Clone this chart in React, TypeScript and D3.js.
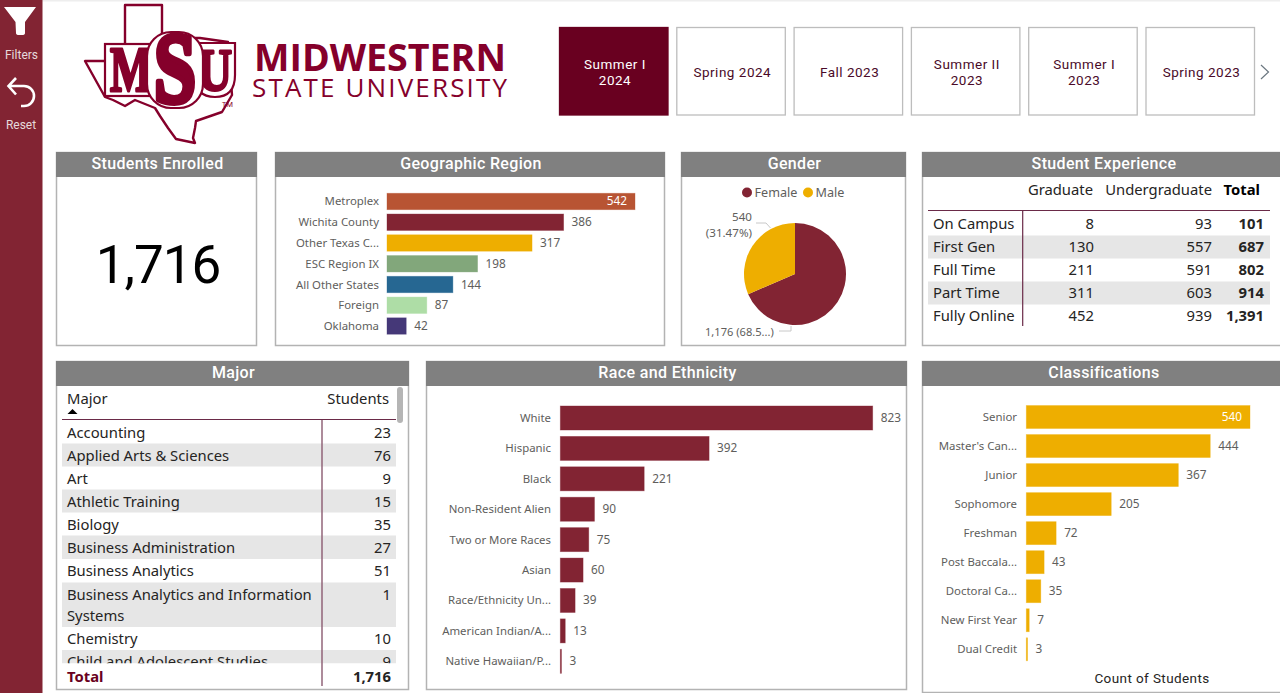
import React from "react";
import * as d3 from "d3";

const regionNames = ["Metroplex", "Wichita County", "Other Texas C...", "ESC Region IX", "All Other States", "Foreign", "Oklahoma"];
const regionValues = [542, 386, 317, 198, 144, 87, 42];
const regionColors = ["#B85433", "#822433", "#EEAE00", "#82A77B", "#266792", "#AEDDA6", "#453878"];

const raceNames = ["White", "Hispanic", "Black", "Non-Resident Alien", "Two or More Races", "Asian", "Race/Ethnicity Un...", "American Indian/A...", "Native Hawaiian/P..."];
const raceValues = [823, 392, 221, 90, 75, 60, 39, 13, 3];

const classNames = ["Senior", "Master's Can...", "Junior", "Sophomore", "Freshman", "Post Baccala...", "Doctoral Ca...", "New First Year", "Dual Credit"];
const classValues = [540, 444, 367, 205, 72, 43, 35, 7, 3];

const genderNames = ["Female", "Male"];
const genderValues = [1176, 540];
const genderColors = ["#822433", "#EEAE00"];

const tileLabels = [["Summer I", "2024"], ["Spring 2024"], ["Fall 2023"], ["Summer II", "2023"], ["Summer I", "2023"], ["Spring 2023"]];

const expRows = ["On Campus", "First Gen", "Full Time", "Part Time", "Fully Online"];
const expGraduate = [8, 130, 211, 311, 452];
const expUndergraduate = [93, 557, 591, 603, 939];
const expTotal = [101, 687, 802, 914, 1391];

const majorNames = [["Accounting"], ["Applied Arts & Sciences"], ["Art"], ["Athletic Training"], ["Biology"], ["Business Administration"], ["Business Analytics"], ["Business Analytics and Information", "Systems"], ["Chemistry"], ["Child and Adolescent Studies"]];
const majorValues = [23, 76, 9, 15, 35, 27, 51, 1, 10, 9];
const totalStudents = 1716;

const DIN = "Roboto, sans-serif";
const SEGOE = "'Noto Sans', 'Open Sans', sans-serif";
const LABEL = "#605E5C";
const MAROON = "#85002B";
const fmt = d3.format(",");

function Panel({ x, w, y, h, title }: any) {
  return (
    <g>
      <rect x={x + 0.5} y={y + 0.5} width={w - 1} height={h - 1} fill="#fff" stroke="#B3B3B3" strokeWidth={1.5} />
      <rect x={x} y={y} width={w} height={25} fill="#808080" />
      <text x={x + w / 2 + 1} y={y + 17} textAnchor="middle" fill="#fff" fontFamily={DIN} fontWeight={500} fontSize={16} letterSpacing={0.35}>{title}</text>
    </g>
  );
}

function HBars({ names, values, colors, x0, x1, top, bottom, labelRight, maxInside }: any) {
  const y = d3.scaleBand<string>().domain(names).range([top, bottom]).paddingInner(0.21).paddingOuter(0.105);
  const x = d3.scaleLinear().domain([0, d3.max(values as number[]) as number]).range([x0, x1]);
  return (
    <g fontFamily={SEGOE} fontSize={11.4}>
      {names.map((n: string, i: number) => {
        const cy = (y(n) as number) + y.bandwidth() / 2;
        const inside = maxInside && i === 0;
        const c = Array.isArray(colors) ? colors[i] : colors;
        return (
          <g key={n}>
            <text x={labelRight} y={cy + 4} textAnchor="end" fill={LABEL}>{n}</text>
            <rect x={x(0)} y={y(n)} width={x(values[i]) - x(0)} height={y.bandwidth()} fill={c} stroke={c} strokeOpacity={0.45} strokeWidth={0.8} />
            <text x={inside ? x(values[i]) - 8 : x(values[i]) + 8} y={cy + 4} textAnchor={inside ? "end" : "start"} fill={inside ? "#fff" : LABEL} fontSize={11.8}>{values[i]}</text>
          </g>
        );
      })}
    </g>
  );
}

function Sidebar() {
  return (
    <g>
      <rect x={0} y={0} width={42.5} height={693} fill="#822433" />
      <path d="M4,7 L36,7 L25,22 L25,33 Q25,35 22,35 L19,35 Q16,35 16,33 L15.5,22 Z" fill="#fff" />
      <text x={21.5} y={59} textAnchor="middle" fill="#E6DADC" fontFamily={DIN} fontSize={12}>Filters</text>
      <path d="M9,86 L24,86 A10,10 0 0 1 24,106 L21,106 M16,78 L8.5,86 L16,94.5" fill="none" stroke="#fff" strokeWidth={2.6} />
      <text x={21} y={129} textAnchor="middle" fill="#E6DADC" fontFamily={DIN} fontSize={12}>Reset</text>
    </g>
  );
}

function Logo() {
  const letter = (t: string, x: number, y: number, size: number, len: number, sw: number) => (
    <text x={x} y={y} fontFamily="'Liberation Serif', serif" fontWeight={700} fontSize={size} textLength={len} lengthAdjust="spacingAndGlyphs" fill={MAROON} stroke={MAROON} strokeWidth={sw} strokeLinejoin="round">{t}</text>
  );
  return (
    <g>
      <path d="M125,5 L162,5 L162,38 L200,38 L228,42 L232,95 L222,112 L196,121 L195,128 L193,138 L195,143 L176,139 L168,128 L160,116 L155,108 L135,100 L125,106 L113,100 L105,97 L100,88 L90,70 L85,61 L108,61 L125,61 Z" fill="#fff" stroke={MAROON} strokeWidth={2.4} strokeLinejoin="round" />
      <rect x={105} y={44} width={50} height={52} fill="#fff" stroke={MAROON} strokeWidth={2.2} />
      <path d="M195,43 L235,43 L235,75 Q235,97 215,97 Q195,97 195,75 Z" fill="#fff" stroke={MAROON} strokeWidth={2.2} />
      {letter("M", 110, 91, 64, 42, 3)}
      {letter("U", 197, 90, 60, 35, 3)}
      <rect x={147} y={32} width={56} height={76} rx={24} fill="#fff" stroke={MAROON} strokeWidth={2.2} />
      {letter("S", 154, 101, 100, 42, 6)}
      <text x={222} y={107} fontFamily={SEGOE} fontSize={7.5} fill={MAROON}>TM</text>
      <text x={254} y={71} fontFamily="'Open Sans', sans-serif" fontWeight={700} fontSize={38} textLength={252} lengthAdjust="spacingAndGlyphs" fill={MAROON}>MIDWESTERN</text>
      <text x={252} y={97} fontFamily="'Open Sans', sans-serif" fontWeight={400} fontSize={26} textLength={255} lengthAdjust="spacing" fill={MAROON}>STATE UNIVERSITY</text>
    </g>
  );
}

function Tiles() {
  const xs = d3.scaleLinear().domain([0, 5]).range([559, 1145.5]);
  return (
    <g fontFamily={DIN} fontSize={13.5} letterSpacing={0.5}>
      {tileLabels.map((lines, i) => {
        const x = xs(i);
        const on = i === 0;
        return (
          <g key={i}>
            <rect x={x + 0.5} y={27.5} width={108.5} height={87.5} fill={on ? "#690020" : "#fff"} stroke={on ? "#690020" : "#BDBDBD"} strokeWidth={1.3} />
            {lines.map((t, j) => (
              <text key={j} x={x + 56} y={72 + 5 + (j - (lines.length - 1) / 2) * 16} textAnchor="middle" fill={on ? "#fff" : "#4A0A28"}>{t}</text>
            ))}
          </g>
        );
      })}
      <path d="M1261,65 L1268.5,72 L1261,79" fill="none" stroke="#6B7780" strokeWidth={1.2} />
    </g>
  );
}

function Gender() {
  const pie = d3.pie<number>().sort(null);
  const arc = d3.arc<d3.PieArcDatum<number>>().innerRadius(0).outerRadius(51);
  const arcs = pie(genderValues);
  const legendX = [747, 808];
  return (
    <g fontFamily={SEGOE} fill={LABEL}>
      {genderNames.map((n, i) => (
        <g key={n}>
          <circle cx={legendX[i]} cy={192.5} r={5} fill={genderColors[i]} />
          <text x={legendX[i] + 7.5} y={197} fontSize={12.6}>{n}</text>
        </g>
      ))}
      <g transform="translate(795,274)">
        {arcs.map((a, i) => <path key={i} d={arc(a) as string} fill={genderColors[i]} />)}
      </g>
      <path d="M770.5,228 L766,223 L756,223" fill="none" stroke="#C8C8C8" />
      <path d="M791,326 L791,331 L779,331" fill="none" stroke="#C8C8C8" />
      <g fontSize={11.6}>
        <text x={752} y={221} textAnchor="end">{genderValues[1]}</text>
        <text x={752} y={237} textAnchor="end">(31.47%)</text>
        <text x={705} y={336} fontSize={11.1}>1,176 (68.5...)</text>
      </g>
    </g>
  );
}

function Experience() {
  const y = d3.scalePoint<string>().domain(expRows).range([224, 316]);
  const shade = [1, 3];
  return (
    <g fontFamily={SEGOE} fontSize={14.8} fill="#252423">
      <text x={1093} y={195} textAnchor="end">Graduate</text>
      <text x={1212} y={195} textAnchor="end">Undergraduate</text>
      <text x={1260} y={195} textAnchor="end" fontWeight={700} fill="#000">Total</text>
      {shade.map((i) => <rect key={i} x={928} y={(y(expRows[i]) as number) - 11.5} width={342} height={23} fill="#E6E6E6" />)}
      {expRows.map((r, i) => {
        const cy = (y(r) as number) + 5;
        return (
          <g key={r}>
            <text x={933} y={cy}>{r}</text>
            <text x={1094} y={cy} textAnchor="end">{expGraduate[i]}</text>
            <text x={1212} y={cy} textAnchor="end">{expUndergraduate[i]}</text>
            <text x={1264} y={cy} textAnchor="end" fontWeight={700}>{fmt(expTotal[i])}</text>
          </g>
        );
      })}
      <line x1={928} x2={1270} y1={210.5} y2={210.5} stroke="#6A2A48" strokeWidth={1.2} />
      <line x1={1022.7} x2={1022.7} y1={210} y2={326} stroke="#6A2A48" strokeWidth={1.2} />
    </g>
  );
}

function Major() {
  const lineH = [23, 23, 23, 23, 23, 23.5, 23.5, 44.5, 23, 23];
  const tops = lineH.reduce<number[]>((acc, h, i) => { acc.push(i === 0 ? 420.5 : acc[i - 1] + lineH[i - 1]); return acc; }, []);
  return (
    <g fontFamily={SEGOE} fontSize={14.8} fill="#252423">
      <defs>
        <clipPath id="majorClip"><rect x={57} y={420} width={340} height={243.5} /></clipPath>
      </defs>
      <text x={67} y={404}>Major</text>
      <path d="M67.5,414 L72.5,409 L77.5,414 Z" fill="#000" />
      <text x={389} y={404} textAnchor="end">Students</text>
      <g clipPath="url(#majorClip)">
        {majorNames.map((lines, i) => (
          <g key={i}>
            {i % 2 === 1 && <rect x={62} y={tops[i]} width={334} height={lineH[i]} fill="#E6E6E6" />}
            {lines.map((t, j) => <text key={j} x={67} y={tops[i] + 17 + j * 21.5}>{t}</text>)}
            <text x={391} y={tops[i] + 17} textAnchor="end">{majorValues[i]}</text>
          </g>
        ))}
      </g>
      <rect x={62} y={663.5} width={334} height={2} fill="#fff" />
      <text x={67} y={681.5} fontWeight={700} fill="#690020">Total</text>
      <text x={391} y={681.5} textAnchor="end" fontWeight={700}>{fmt(totalStudents)}</text>
      <line x1={62} x2={396} y1={419.5} y2={419.5} stroke="#6A2A48" strokeWidth={1.2} />
      <line x1={322} x2={322} y1={420} y2={686} stroke="#8A5A70" strokeWidth={1.4} />
      <rect x={397} y={387} width={6} height={36} rx={3} fill="#B5B5B5" />
    </g>
  );
}

export default function App() {
  return (
    <svg width={1280} height={693} style={{ position: "fixed", left: 0, top: 0, display: "block", background: "#fff" }}>
      <rect x={0} y={0} width={1280} height={1.5} fill="#EEEEEE" />
      <Sidebar />
      <Logo />
      <Tiles />

      <Panel x={56} w={201} y={152} h={194} title="Students Enrolled" />
      <text x={158} y={283} textAnchor="middle" fontFamily={DIN} fontSize={53} fontWeight={400} letterSpacing={-1} fill="#000">{fmt(totalStudents)}</text>

      <Panel x={275} w={390} y={152} h={194} title="Geographic Region" />
      <HBars names={regionNames} values={regionValues} colors={regionColors} x0={387} x1={635} top={191.1} bottom={336.4} labelRight={379} maxInside />

      <Panel x={681} w={225} y={152} h={194} title="Gender" />
      <Gender />

      <Panel x={922} w={362} y={152} h={194} title="Student Experience" />
      <Experience />

      <Panel x={56} w={353} y={361} h={329} title="Major" />
      <Major />

      <Panel x={426} w={481} y={361} h={329} title="Race and Ethnicity" />
      <HBars names={raceNames} values={raceValues} colors="#822433" x0={560.3} x1={872.7} top={402.8} bottom={676.5} labelRight={551} />

      <Panel x={922} w={362} y={361} h={332} title="Classifications" />
      <HBars names={classNames} values={classValues} colors="#EEAE00" x0={1026.3} x1={1250} top={402.5} bottom={663.8} labelRight={1017} maxInside />
      <text x={1152} y={683} textAnchor="middle" fontFamily={DIN} fontSize={13.5} letterSpacing={0.4} fill="#252423">Count of Students</text>
    </svg>
  );
}
